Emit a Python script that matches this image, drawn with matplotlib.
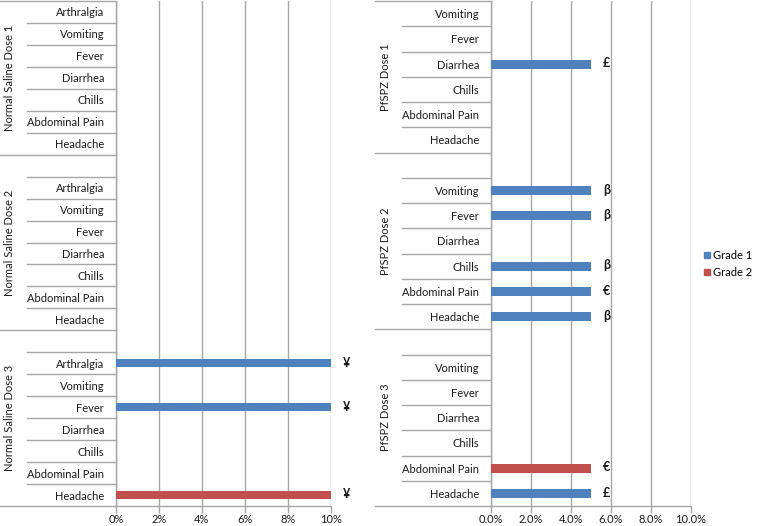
import matplotlib
matplotlib.use('Agg')
import matplotlib.pyplot as plt
from matplotlib.transforms import blended_transform_factory
from matplotlib.lines import Line2D
from matplotlib.patches import Patch

plt.rcParams['font.family'] = ['Lato', 'DejaVu Sans']

# ---------------- data ----------------
ns_symptoms = ["Headache", "Abdominal Pain", "Chills", "Diarrhea", "Fever", "Vomiting", "Arthralgia"]
ns_groups = ["Normal Saline Dose 3", "Normal Saline Dose 2", "Normal Saline Dose 1"]  # bottom to top
ns_dose1_g1 = [0, 0, 0, 0, 0, 0, 0]
ns_dose1_g2 = [0, 0, 0, 0, 0, 0, 0]
ns_dose1_marks = ["", "", "", "", "", "", ""]
ns_dose2_g1 = [0, 0, 0, 0, 0, 0, 0]
ns_dose2_g2 = [0, 0, 0, 0, 0, 0, 0]
ns_dose2_marks = ["", "", "", "", "", "", ""]
ns_dose3_g1 = [0, 0, 0, 0, 10, 0, 10]
ns_dose3_g2 = [10, 0, 0, 0, 0, 0, 0]
ns_dose3_marks = ["¥", "", "", "", "¥", "", "¥"]
ns_xticklabels = ["0%", "2%", "4%", "6%", "8%", "10%"]

pf_symptoms = ["Headache", "Abdominal Pain", "Chills", "Diarrhea", "Fever", "Vomiting"]
pf_groups = ["PfSPZ Dose 3", "PfSPZ Dose 2", "PfSPZ Dose 1"]  # bottom to top
pf_dose1_g1 = [0, 0, 0, 5, 0, 0]
pf_dose1_g2 = [0, 0, 0, 0, 0, 0]
pf_dose1_marks = ["", "", "", "£", "", ""]
pf_dose2_g1 = [5, 5, 5, 0, 5, 5]
pf_dose2_g2 = [0, 0, 0, 0, 0, 0]
pf_dose2_marks = ["β", "€", "β", "", "β", "β"]
pf_dose3_g1 = [5, 0, 0, 0, 0, 0]
pf_dose3_g2 = [0, 5, 0, 0, 0, 0]
pf_dose3_marks = ["£", "€", "", "", "", ""]
pf_xticklabels = ["0.0%", "2.0%", "4.0%", "6.0%", "8.0%", "10.0%"]

xticks = [0, 2, 4, 6, 8, 10]
series_names = ["Grade 1", "Grade 2"]

BLUE = '#4F81BD'
RED = '#C0504D'
GRAY = '#A6A6A6'
TXT = '#1a1a1a'
FS = 8

W, H = 757, 526
fig = plt.figure(figsize=(W / 100, H / 100), dpi=100)


def fx(px):
    return px / W


top_px, bot_px = 1, 506


def draw_panel(x0, x1, symptoms, groups, g1s, g2s, marks, xlabels,
               short_x0, long_x0, glabel_x):
    ax = fig.add_axes([fx(x0), (H - bot_px) / H, (x1 - x0) / W, (bot_px - top_px) / H])
    n = len(symptoms)
    block = n + 1
    ng = len(groups)
    ytop = (ng - 1) * block + n - 0.5
    ys_all, labels_all = [], []
    trans = blended_transform_factory(fig.transFigure, ax.transData)
    for k in range(ng):
        ys = [k * block + j for j in range(n)]
        g1, g2, mk = g1s[k], g2s[k], marks[k]
        ax.barh(ys, g1, height=0.36, color=BLUE, zorder=3)
        ax.barh(ys, g2, left=g1, height=0.36, color=RED, zorder=3)
        for y, a, b, m in zip(ys, g1, g2, mk):
            if m:
                ax.annotate(m, (a + b, y), xytext=(8.5, 0.5), textcoords='offset points',
                            ha='left', va='center', fontweight='bold', fontsize=FS + 1,
                            color=TXT, annotation_clip=False)
        ys_all += ys
        labels_all += symptoms
        # separators
        for j in range(n):
            yy = k * block + j + 0.5
            if yy >= ytop - 1e-9:
                continue
            fig.add_artist(Line2D([fx(short_x0), fx(x0)], [yy, yy], transform=trans,
                                  color=GRAY, lw=1))
        yb = k * block - 0.5
        fig.add_artist(Line2D([fx(long_x0), fx(x0)], [yb, yb], transform=trans,
                              color=GRAY, lw=1))
        yc = (yb + min(yb + block, ytop)) / 2
        fig.text(fx(glabel_x), yc, groups[k], rotation=90, ha='center', va='center',
                 transform=trans, fontsize=FS, color=TXT)
    fig.add_artist(Line2D([fx(long_x0), fx(x0)], [ytop, ytop], transform=trans,
                          color=GRAY, lw=1))
    ax.set_ylim(-0.5, ytop)
    ax.set_xlim(0, 10)
    ax.set_yticks(ys_all)
    ax.set_yticklabels(labels_all, fontsize=FS, color=TXT)
    ax.tick_params(axis='y', length=0, pad=8.5)
    ax.set_xticks(xticks)
    ax.set_xticklabels(xlabels, fontsize=FS, color=TXT)
    ax.tick_params(axis='x', length=5, width=1, color=GRAY, direction='out', pad=1)
    ax.xaxis.grid(True, color=GRAY, lw=1)
    ax.set_axisbelow(True)
    for s in ['top', 'right']:
        ax.spines[s].set_visible(False)
    for s in ['left', 'bottom']:
        ax.spines[s].set_color(GRAY)
        ax.spines[s].set_linewidth(1)
    return ax


draw_panel(116, 331, ns_symptoms, ns_groups,
           [ns_dose3_g1, ns_dose2_g1, ns_dose1_g1],
           [ns_dose3_g2, ns_dose2_g2, ns_dose1_g2],
           [ns_dose3_marks, ns_dose2_marks, ns_dose1_marks],
           ns_xticklabels, short_x0=27, long_x0=0, glabel_x=10)

draw_panel(491, 691, pf_symptoms, pf_groups,
           [pf_dose3_g1, pf_dose2_g1, pf_dose1_g1],
           [pf_dose3_g2, pf_dose2_g2, pf_dose1_g2],
           [pf_dose3_marks, pf_dose2_marks, pf_dose1_marks],
           pf_xticklabels, short_x0=402, long_x0=375, glabel_x=385.5)

handles = [Patch(color=BLUE, label=series_names[0]), Patch(color=RED, label=series_names[1])]
fig.legend(handles=handles, loc='center left', bbox_to_anchor=(fx(704), 1 - 264 / H),
           frameon=False, handlelength=0.5, handleheight=0.5, handletextpad=0.35,
           labelspacing=0.55, fontsize=FS, borderpad=0, borderaxespad=0)

fig.savefig('out.png', dpi=100)
